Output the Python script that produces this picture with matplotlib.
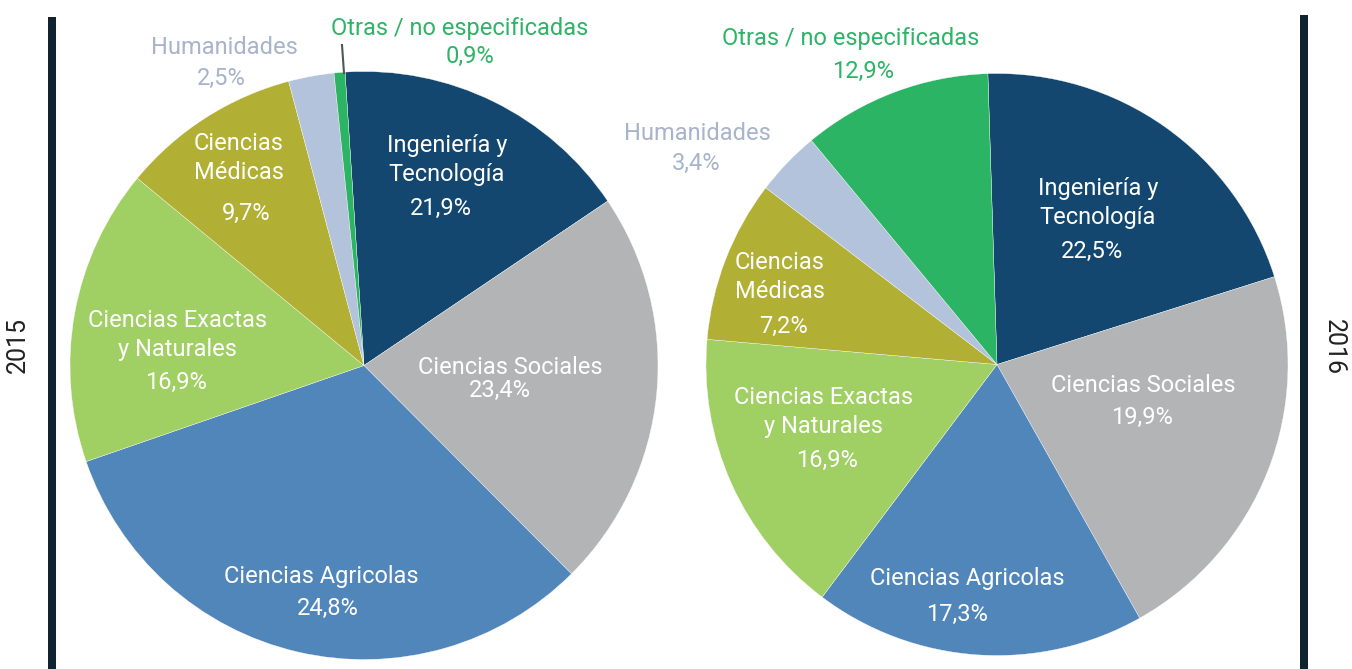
import matplotlib
matplotlib.use('Agg')
import matplotlib.pyplot as plt
from matplotlib.patches import Rectangle

plt.rcParams['font.family'] = ['Roboto', 'DejaVu Sans']

W, H = 1352, 669

# areas, clockwise from the top
areas = ['Ingeniería y\nTecnología', 'Ciencias Sociales', 'Ciencias Agricolas',
         'Ciencias Exactas\ny Naturales', 'Ciencias\nMédicas', 'Humanidades',
         'Otras / no especificadas']
pct_2015 = ['21,9%', '23,4%', '24,8%', '16,9%', '9,7%', '2,5%', '0,9%']
pct_2016 = ['22,5%', '19,9%', '17,3%', '16,9%', '7,2%', '3,4%', '12,9%']
# wedge sizes as drawn in the picture (measured on the slices)
share_2015 = [16.6, 22.0, 32.2, 16.3, 9.9, 2.5, 0.6]
share_2016 = [20.6, 21.7, 18.4, 16.1, 9.0, 3.6, 10.5]

colors = ['#13476f', '#b3b4b6', '#5186bb', '#a0cf63', '#b1af34', '#b3c3dc', '#2bb463']
txt_colors = ['white'] * 5 + ['#a7b4cb', '#2db466']

# label centres in pixels (name, percentage)
name_xy_2015 = [(447, 160), (510, 367), (321, 576), (177, 335), (239, 158), (224, 47), (460, 28)]
pct_xy_2015 = [(441, 208), (500, 390), (328, 608), (176, 382), (246, 213), (221, 78), (470, 56)]
name_xy_2016 = [(1098, 203), (1143, 386), (967, 579), (823, 412), (780, 277), (697, 133), (851, 38)]
pct_xy_2016 = [(1092, 251), (1142, 417), (957, 614), (827, 460), (784, 326), (696, 163), (863, 71)]

fig = plt.figure(figsize=(W / 100, H / 100), dpi=100)


def pie_axes(cx, cy, r):
    ax = fig.add_axes([(cx - r) / W, 1 - (cy + r) / H, 2 * r / W, 2 * r / H])
    ax.axis('off')
    return ax


def draw_year(shares, start, cx, cy, r, names_xy, pcts_xy, pcts):
    ax = pie_axes(cx, cy, r)
    ax.pie(shares, colors=colors, startangle=start, counterclock=False, radius=1,
           wedgeprops=dict(edgecolor='white', linewidth=0.25))
    ax.set_xlim(-1, 1)
    ax.set_ylim(-1, 1)
    for i in range(len(areas)):
        nx, ny = names_xy[i]
        px, py = pcts_xy[i]
        fig.text(nx / W, 1 - ny / H, areas[i], color=txt_colors[i], fontsize=17,
                 ha='center', va='center', linespacing=1.33)
        fig.text(px / W, 1 - py / H, pcts[i], color=txt_colors[i], fontsize=17,
                 ha='center', va='center')
    return ax


ax1 = draw_year(share_2015, 93.7, 364, 365.5, 294, name_xy_2015, pct_xy_2015, pct_2015)
# leader line for the tiny slice
ax1.plot([(342 - 364) / 294, (344 - 364) / 294], [(365.5 - 45) / 294, (365.5 - 73) / 294],
         color='#4a5a55', lw=1.5, clip_on=False)
draw_year(share_2016, 91.8, 997, 364.5, 291, name_xy_2016, pct_xy_2016, pct_2016)

# side bars and years
fig.add_artist(Rectangle((48 / W, 0), 8 / W, 1 - 17 / H, transform=fig.transFigure,
                         color='#10242f', lw=0))
fig.add_artist(Rectangle((1300 / W, 0), 8 / W, 1 - 15 / H, transform=fig.transFigure,
                         color='#10242f', lw=0))
fig.text(18 / W, 1 - 345 / H, '2015', rotation=90, fontsize=18, color='#222222',
         ha='center', va='center')
fig.text(1334 / W, 1 - 347 / H, '2016', rotation=270, fontsize=18, color='#222222',
         ha='center', va='center')

fig.savefig('out.png', dpi=100)
